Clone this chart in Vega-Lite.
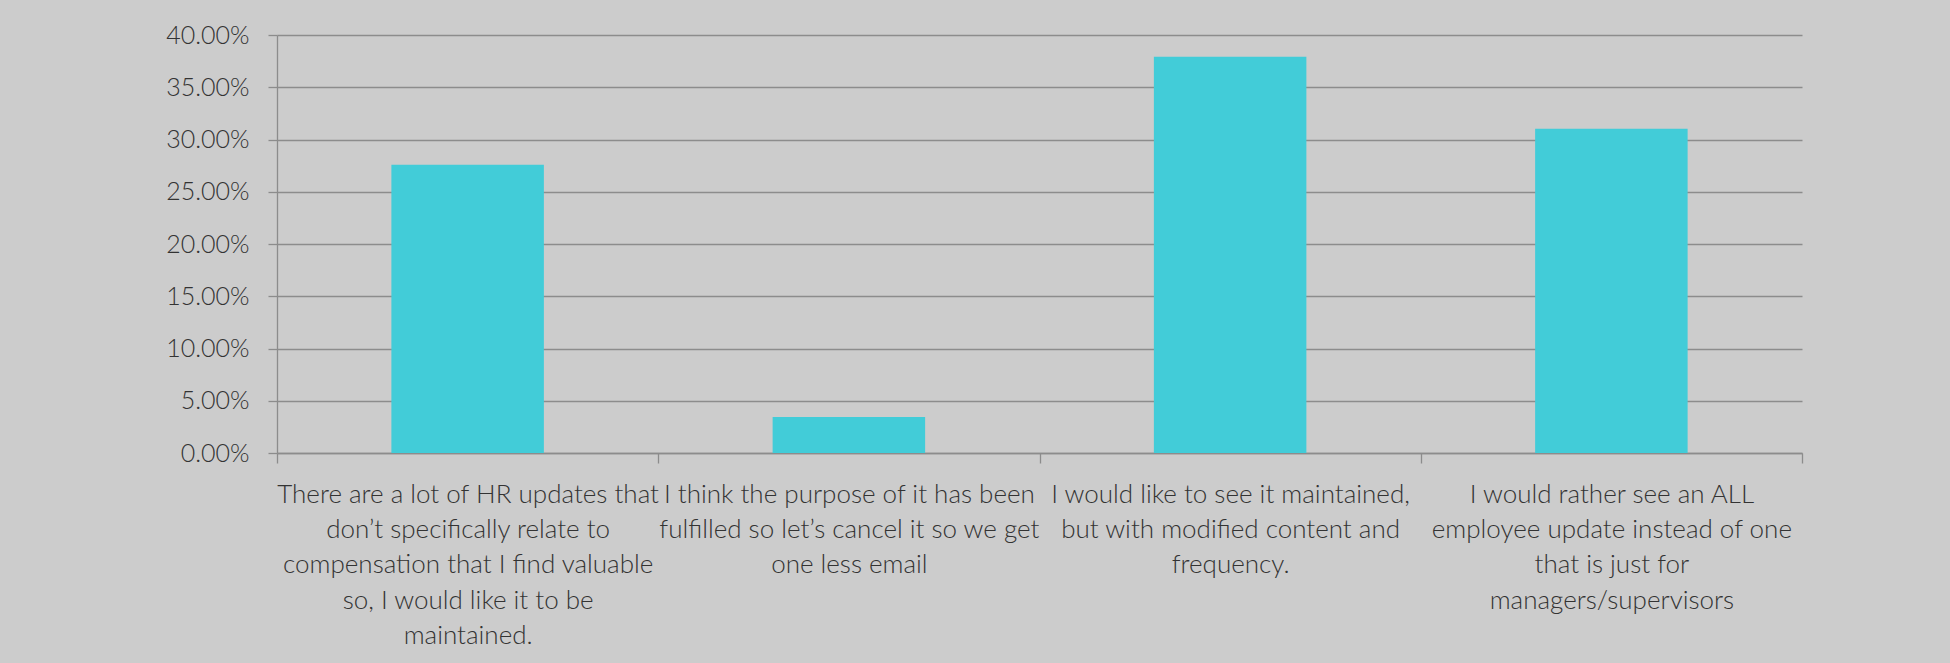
{
  "$schema": "https://vega.github.io/schema/vega-lite/v6.json",
  "autosize": {"type": "none"},
  "width": 1525,
  "height": 418,
  "padding": {"left": 277, "top": 35, "right": 148, "bottom": 210},
  "background": "#cccccc",
  "data": {
    "values": [
      {"label": "There are a lot of HR updates that\ndon’t specifically relate to\ncompensation that I find valuable\nso, I would like it to be\nmaintained.", "share": 0.2759},
      {"label": "I think the purpose of it has been\nfulfilled so let’s cancel it so we get\none less email", "share": 0.0345},
      {"label": "I would like to see it maintained,\nbut with modified content and\nfrequency.", "share": 0.3793},
      {"label": "I would rather see an ALL\nemployee update instead of one\nthat is just for\nmanagers/supervisors", "share": 0.3103}
    ]
  },
  "mark": {"type": "bar", "color": "#42ccd8", "width": {"band": 0.4}},
  "encoding": {
    "x": {
      "field": "label",
      "type": "nominal",
      "sort": null,
      "title": null,
      "scale": {"paddingInner": 0, "paddingOuter": 0},
      "axis": {
        "labelExpr": "split(datum.label, '\\n')",
        "labelAngle": 0,
        "labelFont": "Lato",
        "labelFontWeight": 300,
        "labelFontSize": 26,
        "labelLineHeight": 35.4,
        "labelColor": "#333333",
        "labelPadding": 18,
        "labelLimit": 0,
        "labelOverlap": false,
        "tickBand": "extent",
        "tickSize": 10,
        "tickColor": "#8c8c8c",
        "tickWidth": 1.3,
        "domainColor": "#8c8c8c",
        "domainWidth": 1.3,
        "grid": false
      }
    },
    "y": {
      "field": "share",
      "type": "quantitative",
      "title": null,
      "scale": {"domain": [0, 0.4], "nice": false},
      "axis": {
        "values": [0, 0.05, 0.1, 0.15, 0.2, 0.25, 0.3, 0.35, 0.4],
        "format": ".2%",
        "labelFont": "Lato",
        "labelFontWeight": 300,
        "labelFontSize": 25,
        "labelColor": "#333333",
        "labelPadding": 19,
        "tickSize": 9,
        "tickColor": "#8c8c8c",
        "tickWidth": 1.3,
        "domainColor": "#8c8c8c",
        "domainWidth": 1.3,
        "grid": true,
        "gridColor": "#8c8c8c",
        "gridWidth": 1.3
      }
    }
  },
  "config": {"view": {"stroke": null}}
}
